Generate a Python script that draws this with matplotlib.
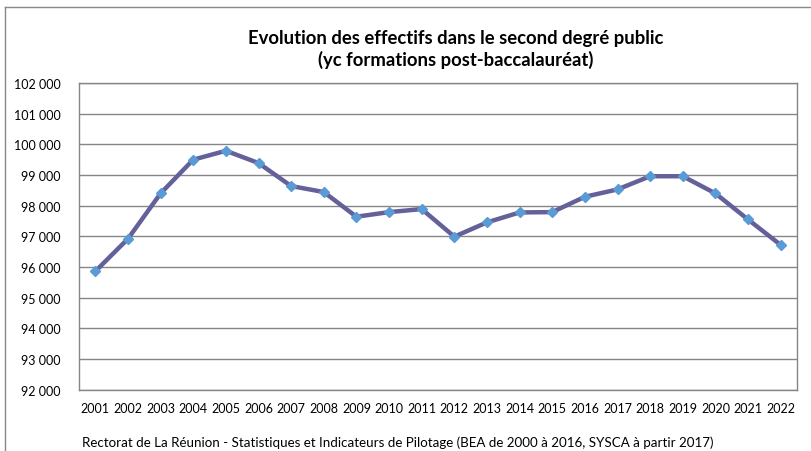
import matplotlib
matplotlib.use("Agg")
import matplotlib.pyplot as plt
from matplotlib.lines import Line2D
from matplotlib.ticker import FuncFormatter

years = [str(y) for y in range(2001, 2023)]
effectifs = [95860, 96920, 98400, 99500, 99790, 99390, 98640, 98445, 97640, 97790,
             97890, 96990, 97455, 97780, 97790, 98290, 98530, 98960, 98960, 98400,
             97550, 96720]
y_ticks = list(range(92000, 102001, 1000))

title = "Evolution des effectifs dans le second degré public\n(yc formations post-baccalauréat)"
source = "Rectorat de La Réunion - Statistiques et Indicateurs de Pilotage (BEA de 2000 à 2016, SYSCA à partir 2017)"

plt.rcParams['font.family'] = ['Lato', 'DejaVu Sans']

fig = plt.figure(figsize=(8.11, 4.52), dpi=100)
ax = fig.add_axes([79/811, 1-390.7/452, (797-79)/811, (390.7-84)/452])

x = list(range(len(years)))
ax.plot(x, effectifs, color="#64609A", lw=3.2, marker="D", markersize=5.5,
        markerfacecolor="#5B9BD5", markeredgecolor="#5B9BD5", zorder=3, solid_joinstyle="round")

ax.set_xlim(-0.5, len(years) - 0.5)
ax.set_ylim(92000, 102000)
ax.set_yticks(y_ticks)
ax.yaxis.set_major_formatter(FuncFormatter(lambda v, p: f"{int(v):,}".replace(",", " ")))
ax.set_xticks(x)
ax.set_xticklabels(years)
ax.grid(axis="y", color="#868686", lw=1)
ax.set_axisbelow(True)
for s in ax.spines.values():
    s.set_color("#868686")
    s.set_linewidth(1)
ax.tick_params(axis="both", length=0, labelsize=9, colors="black")
ax.tick_params(axis="y", pad=13)
ax.tick_params(axis="x", pad=9)

fig.text(0.562, 1-49.5/452, title, ha="center", va="center", fontsize=13.3,
         fontweight="bold", linespacing=1.32)
fig.text(0.49, 1-443/452, source, ha="center", va="center", fontsize=9.6)

# outer frame (left and top edges)
fig.add_artist(Line2D([5/811, 5/811], [0, 1-8/452], transform=fig.transFigure, color="#888888", lw=1))
fig.add_artist(Line2D([5/811, 1], [1-8/452, 1-8/452], transform=fig.transFigure, color="#888888", lw=1))

fig.savefig("out.png", dpi=100)
